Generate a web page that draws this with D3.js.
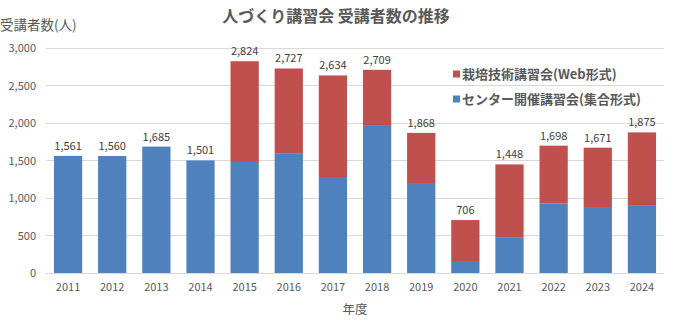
<!DOCTYPE html>
<html><head><meta charset="utf-8">
<script src="https://cdn.jsdelivr.net/npm/d3@7"></script>
<style>
body{margin:0;background:#fff;}
text{font-family:"Noto Sans CJK JP","Noto Sans",sans-serif;}
</style></head>
<body><svg id="c" width="676" height="326"></svg>
<script>
const years = ["2011","2012","2013","2014","2015","2016","2017","2018","2019","2020","2021","2022","2023","2024"];
const totals = [1561,1560,1685,1501,2824,2727,2634,2709,1868,706,1448,1698,1671,1875];
const center = [1561,1560,1685,1501,1480,1590,1280,1962,1200,160,470,925,880,905];
const web = totals.map((t,i)=>t-center[i]);
const yTicks = [0,500,1000,1500,2000,2500,3000];
const seriesNames = ["栽培技術講習会(Web形式)","センター開催講習会(集合形式)"];
const colors = {web:"#C0504D", center:"#4F81BD"};
const titleText = "人づくり講習会 受講者数の推移";
const yTitle = "受講者数(人)";
const xTitle = "年度";

const svg = d3.select("#c");
const x = d3.scaleBand().domain(years).range([46,664]).paddingInner(0.36).paddingOuter(0.18);
const y = d3.scaleLinear().domain([0,3000]).range([273,48]);
const fmt = d3.format(",");
const grey = "#595959";

// gridlines
svg.append("g").selectAll("line").data(yTicks).join("line")
  .attr("x1",46).attr("x2",664).attr("y1",d=>y(d)).attr("y2",d=>y(d))
  .attr("stroke","#d9d9d9").attr("stroke-width",1).attr("shape-rendering","crispEdges");

// y axis labels
const yAxis = d3.axisLeft(y).tickValues(yTicks).tickFormat(fmt).tickSize(0).tickPadding(0);
const ga = svg.append("g").attr("transform","translate(36,0)").call(yAxis);
ga.select(".domain").remove();
ga.selectAll("text").attr("fill",grey).style("font-size","11px").style("font-family",'"Noto Sans CJK JP",sans-serif');

// x axis
const xAxis = d3.axisBottom(x).tickSize(0).tickPadding(10);
const gx = svg.append("g").attr("transform","translate(0,273)").call(xAxis);
gx.select(".domain").remove();
gx.selectAll("text").attr("fill",grey).style("font-size","11px").style("font-family",'"Noto Sans CJK JP",sans-serif');

// bars
svg.append("g").selectAll("rect").data(years).join("rect")
  .attr("x",d=>x(d)).attr("width",x.bandwidth())
  .attr("y",(d,i)=>y(center[i])).attr("height",(d,i)=>y(0)-y(center[i]))
  .attr("fill",colors.center);
svg.append("g").selectAll("rect").data(years).join("rect")
  .attr("x",d=>x(d)).attr("width",x.bandwidth())
  .attr("y",(d,i)=>y(totals[i])).attr("height",(d,i)=>y(center[i])-y(totals[i]))
  .attr("fill",colors.web);

// zero axis line
svg.append("line").attr("x1",46).attr("x2",664).attr("y1",y(0)).attr("y2",y(0))
  .attr("stroke","#d9d9d9").attr("shape-rendering","crispEdges");

// data labels
svg.append("g").selectAll("text").data(years).join("text")
  .attr("x",d=>x(d)+x.bandwidth()/2).attr("y",(d,i)=>y(totals[i])-6)
  .attr("text-anchor","middle").attr("fill","#404040").style("font-size","11px")
  .text((d,i)=>fmt(totals[i]));

// title
svg.append("text").attr("x",336).attr("y",22).attr("text-anchor","middle")
  .attr("fill",grey).style("font-size","16px").style("font-weight","bold").text(titleText);
// y title
svg.append("text").attr("x",0).attr("y",30).attr("fill",grey).style("font-size","13.5px").text(yTitle);
// x title
svg.append("text").attr("x",355).attr("y",314).attr("text-anchor","middle")
  .attr("fill",grey).style("font-size","12.5px").text(xTitle);

// legend
const leg = svg.append("g");
const legItems = [{name:seriesNames[0],color:colors.web,y:74},{name:seriesNames[1],color:colors.center,y:99}];
legItems.forEach(it=>{
  leg.append("rect").attr("x",453).attr("y",it.y-3.5).attr("width",7).attr("height",7).attr("fill",it.color);
  leg.append("text").attr("x",462).attr("y",it.y+4.5).attr("fill",grey)
    .style("font-size","13px").style("font-weight","bold").text(it.name);
});
</script></body></html>
